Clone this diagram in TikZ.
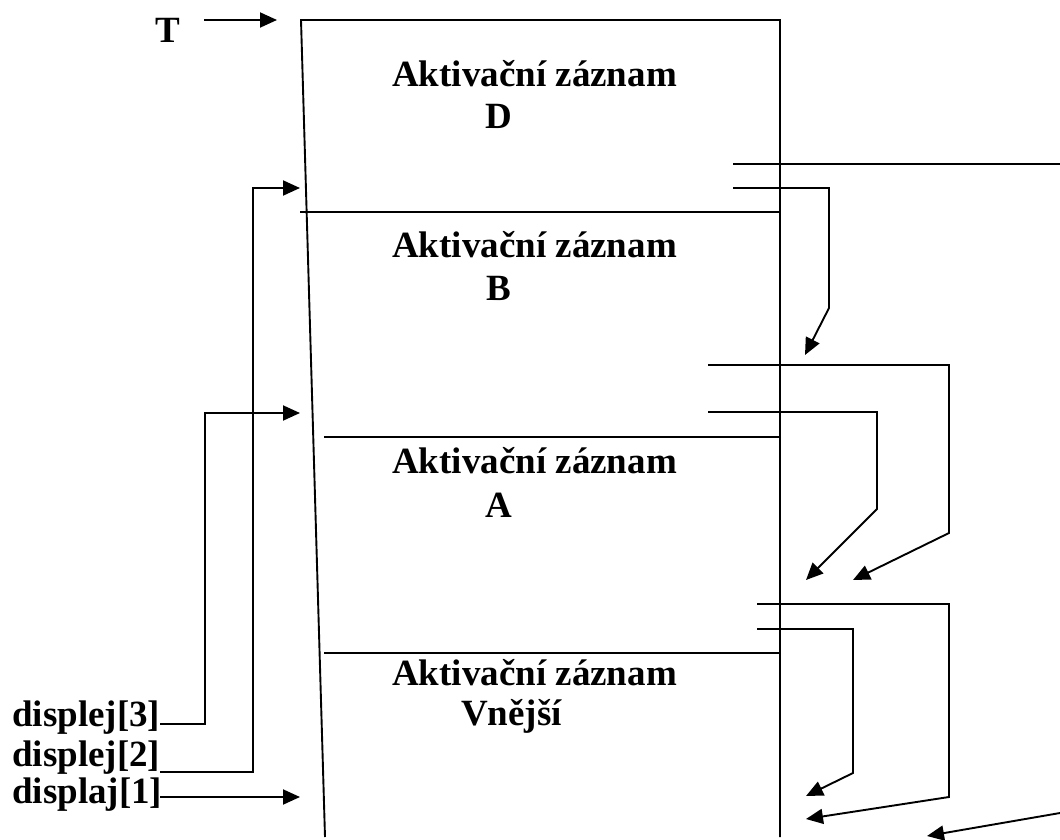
\documentclass[tikz,border=0pt]{standalone}
\usepackage{fontspec}
\setmainfont{Liberation Serif}
\usetikzlibrary{arrows.meta}
\begin{document}
\begin{tikzpicture}[x=1pt,y=-1pt,
  ln/.style={line width=1.9pt, line join=miter},
  arr/.style={ln, -{Triangle[length=17pt,width=15pt]}},
  lbl/.style={inner sep=0pt, anchor=base west, font=\fontsize{37}{44}\selectfont\bfseries}]
\useasboundingbox (0,0) rectangle (1060,840);
% frame
\coordinate (tl) at (301,20);
\coordinate (tr) at (780,20);
\coordinate (bl) at (325,837);
\coordinate (br) at (780,837);
\draw[ln] (bl) -- (tl) -- (tr) -- (br);
% separators
\coordinate (s1a) at (300,212); \coordinate (s1b) at (780,212);
\coordinate (s2a) at (324,437); \coordinate (s2b) at (780,437);
\coordinate (s3a) at (324,653); \coordinate (s3b) at (780,653);
\draw[ln] (s1a) -- (s1b);
\draw[ln] (s2a) -- (s2b);
\draw[ln] (s3a) -- (s3b);
% texts
\node[lbl] (d1) at (392,87) {Aktivační záznam};
\node[lbl] (d2) at (485,129) {D};
\node[lbl] (b1) at (392,257) {Aktivační záznam};
\node[lbl] (b2) at (486,300) {B};
\node[lbl] (a1) at (392,473) {Aktivační záznam};
\node[lbl] (a2) at (485,517) {A};
\node[lbl] (v1) at (392,685) {Aktivační záznam};
\node[lbl] (v2) at (461,725) {Vnější};
\node[lbl] (T) at (155,43) {T};
\node[lbl] (p3) at (12,726) {displej[3]};
\node[lbl] (p2) at (12,766) {displej[2]};
\node[lbl] (p1) at (12,803) {displaj[1]};
% T arrow
\coordinate (ta) at (204,20); \coordinate (tb) at (277,20);
\draw[arr] (ta) -- (tb);
% display pointers
\coordinate (p3s) at (160,724); \coordinate (p3t) at (300,413);
\draw[arr] (p3s) -- (205,724) -- (205,413) -- (p3t);
\coordinate (p2s) at (160,772); \coordinate (p2t) at (300,188);
\draw[arr] (p2s) -- (253,772) -- (253,188) -- (p2t);
\coordinate (p1s) at (160,797); \coordinate (p1t) at (300,797);
\draw[arr] (p1s) -- (p1t);
% right pointers
\coordinate (r0a) at (733,164); \coordinate (r0b) at (1060,164);
\draw[ln] (r0a) -- (r0b);
\coordinate (r1a) at (733,188); \coordinate (r1t) at (805,355);
\draw[arr] (r1a) -- (829,188) -- (829,308) -- (r1t);
\coordinate (r2a) at (708,365); \coordinate (r2t) at (853,580);
\draw[arr] (r2a) -- (949,365) -- (949,533) -- (r2t);
\coordinate (r3a) at (708,412); \coordinate (r3t) at (806,580);
\draw[arr] (r3a) -- (877,412) -- (877,509) -- (r3t);
\coordinate (r4a) at (757,604); \coordinate (r4t) at (806,819);
\draw[arr] (r4a) -- (949,604) -- (949,797) -- (r4t);
\coordinate (r5a) at (757,629); \coordinate (r5t) at (806,796);
\draw[arr] (r5a) -- (853,629) -- (853,773) -- (r5t);
\coordinate (r6a) at (1060,813); \coordinate (r6t) at (927,836);
\draw[arr] (r6a) -- (r6t);
\end{tikzpicture}
\end{document}
